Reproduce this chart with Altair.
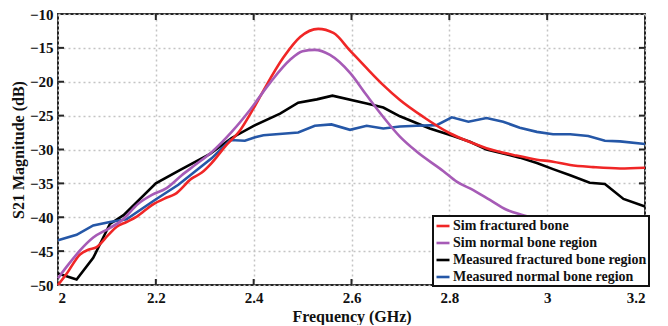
import altair as alt
import pandas as pd

series_names = ["Sim fractured bone", "Sim normal bone region",
                "Measured fractured bone region", "Measured normal bone region"]
series_colors = ["#f02626", "#a65bb6", "#000000", "#2557a7"]

sim_frac_f = [2.0, 2.018, 2.045, 2.062, 2.079, 2.103, 2.12, 2.14, 2.161, 2.192, 2.219, 2.239,
              2.273, 2.294, 2.314, 2.341, 2.372, 2.40, 2.42, 2.461, 2.495, 2.532, 2.563,
              2.597, 2.631, 2.665, 2.699, 2.747, 2.801, 2.842, 2.876, 2.937, 2.979, 3.012,
              3.047, 3.094, 3.149, 3.2]
sim_frac_db = [-50.0, -48.3, -45.5, -44.8, -44.4, -42.6, -41.4, -40.7, -39.9, -38.2, -37.2, -36.6,
               -34.3, -33.4, -32.0, -29.6, -27.2, -23.9, -21.3, -16.4, -13.4, -12.2, -12.8,
               -15.4, -18.0, -20.5, -22.7, -25.2, -27.6, -28.9, -29.8, -30.9, -31.5, -31.8,
               -32.3, -32.6, -32.8, -32.7]

sim_norm_f = [2.0, 2.021, 2.045, 2.072, 2.103, 2.13, 2.164, 2.192, 2.222, 2.253, 2.28, 2.314,
              2.355, 2.392, 2.433, 2.474, 2.50, 2.525, 2.556, 2.597, 2.631, 2.665, 2.699,
              2.733, 2.788, 2.815, 2.849, 2.883, 2.917, 2.951, 3.0, 3.05, 3.1, 3.15, 3.2]
sim_norm_db = [-49.0, -47.0, -44.9, -43.0, -41.7, -40.5, -38.0, -36.7, -35.7, -33.8, -32.3, -30.4,
               -27.4, -24.2, -20.2, -16.8, -15.5, -15.3, -16.05, -18.7, -22.0, -25.2, -28.1,
               -30.3, -33.2, -34.75, -36.0, -37.45, -38.9, -39.7, -40.6, -41.6, -42.6, -43.5, -44.4]

meas_frac_f = [2.0, 2.038, 2.072, 2.106, 2.134, 2.2, 2.25, 2.31, 2.355, 2.40, 2.454, 2.491,
               2.529, 2.561, 2.631, 2.665, 2.699, 2.76, 2.808, 2.842, 2.876, 2.944, 2.979,
               3.012, 3.047, 3.087, 3.118, 3.156, 3.2]
meas_frac_db = [-48.3, -49.2, -46.0, -41.0, -39.7, -35.0, -33.0, -30.7, -28.3, -26.5, -24.7, -23.1,
                -22.6, -22.05, -23.2, -23.8, -25.1, -26.9, -28.0, -28.85, -30.0, -31.2, -32.0,
                -32.9, -33.8, -34.9, -35.1, -37.3, -38.4]

meas_norm_f = [2.0, 2.038, 2.072, 2.106, 2.140, 2.198, 2.246, 2.314, 2.352, 2.382, 2.403, 2.42,
               2.491, 2.525, 2.559, 2.597, 2.631, 2.665, 2.699, 2.733, 2.774, 2.805, 2.839,
               2.876, 2.910, 2.944, 2.979, 3.012, 3.047, 3.084, 3.118, 3.149, 3.2]
meas_norm_db = [-43.4, -42.6, -41.2, -40.7, -40.3, -37.45, -35.2, -31.3, -28.6, -28.7, -28.2, -27.9,
                -27.5, -26.5, -26.3, -27.1, -26.5, -26.9, -26.6, -26.5, -26.4, -25.25, -25.9,
                -25.35, -25.9, -26.8, -27.4, -27.75, -27.75, -28.0, -28.7, -28.8, -29.2]

x_ticks = [2.0, 2.2, 2.4, 2.6, 2.8, 3.0, 3.2]
y_ticks = [-50, -45, -40, -35, -30, -25, -20, -15, -10]

W, H = 587, 271
FONT = "Liberation Serif"


def frame(name, f, v, order):
    return pd.DataFrame({"series": name, "f": f, "db": v, "order": order})


smooth_df = pd.concat([frame(series_names[0], sim_frac_f, sim_frac_db, 0),
                       frame(series_names[1], sim_norm_f, sim_norm_db, 1)])
meas_df = pd.concat([frame(series_names[2], meas_frac_f, meas_frac_db, 2),
                     frame(series_names[3], meas_norm_f, meas_norm_db, 3)])

xscale = alt.Scale(domain=[2.0, 3.2], nice=False, zero=False)
yscale = alt.Scale(domain=[-50, -10], nice=False, zero=False)
color = alt.Color("series:N",
                  scale=alt.Scale(domain=series_names, range=series_colors),
                  sort=series_names,
                  legend=alt.Legend(title=None, orient="none", legendX=375, legendY=202))

xaxis = alt.Axis(values=x_ticks, title="Frequency (GHz)", format="~g", labelOverlap=False)
yaxis = alt.Axis(values=y_ticks, title="S21  Magnitude (dB)", format="d", labelOverlap=False)

X = alt.X("f:Q", scale=xscale, axis=xaxis)
Y = alt.Y("db:Q", scale=yscale, axis=yaxis)

smooth = alt.Chart(smooth_df).mark_line(strokeWidth=2.6, interpolate="monotone").encode(
    x=X, y=Y, color=color, detail="series:N",
)
meas = alt.Chart(meas_df).mark_line(strokeWidth=2.6).encode(
    x=X, y=Y, color=color, detail="series:N",
)

xt = pd.DataFrame({"t": x_ticks[1:-1]})
yt = pd.DataFrame({"t": y_ticks[1:-1]})
tick_col = "#262626"
tx = alt.X("t:Q", scale=xscale, axis=xaxis)
ty = alt.Y("t:Q", scale=yscale, axis=yaxis)
xt_bot = alt.Chart(xt).mark_rule(color=tick_col, strokeWidth=2).encode(
    x=tx, y=alt.value(H), y2=alt.value(H - 6))
xt_top = alt.Chart(xt).mark_rule(color=tick_col, strokeWidth=2).encode(
    x=tx, y=alt.value(0), y2=alt.value(6))
yt_left = alt.Chart(yt).mark_rule(color=tick_col, strokeWidth=2).encode(
    y=ty, x=alt.value(0), x2=alt.value(6))
yt_right = alt.Chart(yt).mark_rule(color=tick_col, strokeWidth=2).encode(
    y=ty, x=alt.value(W), x2=alt.value(W - 6))

chart = alt.layer(meas, smooth, xt_bot, xt_top, yt_left, yt_right).properties(
    width=W, height=H,
    autosize=alt.AutoSizeParams(type="none"),
    padding={"left": 50, "top": 6, "right": 15, "bottom": 40},
).configure_view(
    stroke="#262626", strokeWidth=2
).configure_axis(
    domain=False, ticks=False,
    grid=True, gridColor="#c4c4c4", gridDash=[2, 3], gridWidth=1.5,
    labelFont=FONT, labelFontWeight="bold", labelFontSize=15, labelColor="#111111",
    titleFont=FONT, titleFontWeight="bold", titleFontSize=16, titleColor="#111111",
    labelPadding=5,
).configure_axisX(
    titlePadding=3
).configure_axisY(
    titlePadding=3
).configure_legend(
    fillColor="white", strokeColor="#111111", strokeWidth=2, padding=2,
    symbolType="stroke", symbolStrokeWidth=2.6, symbolSize=169,
    labelFont=FONT, labelFontWeight="bold", labelFontSize=14, labelColor="#111111",
    rowPadding=2, labelOffset=2, labelLimit=300,
)

chart.save("out.html", embed_options={"renderer": "svg", "actions": False})
